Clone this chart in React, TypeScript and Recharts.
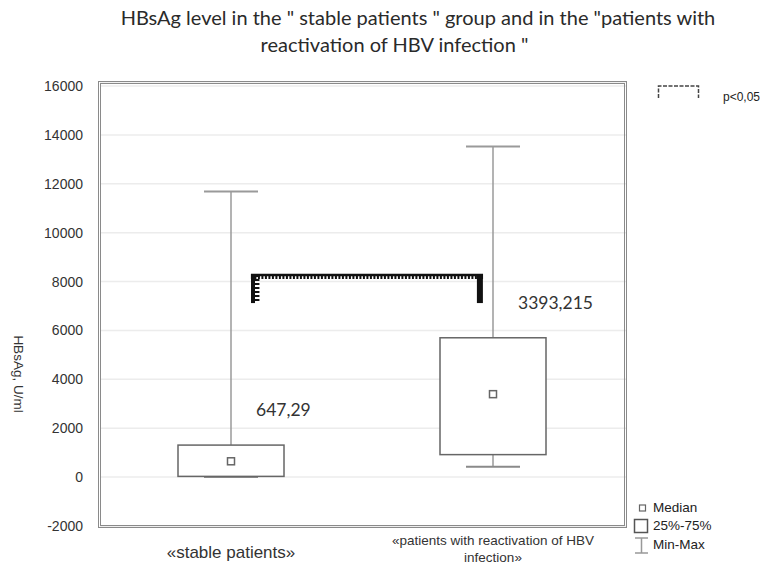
import React from "react";
import {
  ComposedChart,
  Bar,
  XAxis,
  YAxis,
  CartesianGrid,
  ReferenceLine,
} from "recharts";

// tick label lines per group (bottom axis)
const categoryLines = [
  ["«stable patients»"],
  ["«patients with reactivation of HBV", "infection»"],
];
const categories = categoryLines.map((l) => l.join(" "));

// box plot statistics, HBsAg U/ml
const minValues = [0, 420];
const q1Values = [30, 920];
const medianValues = [647.29, 3393.215];
const q3Values = [1310, 5700];
const maxValues = [11680, 13530];

const yTicks = [-2000, 0, 2000, 4000, 6000, 8000, 10000, 12000, 14000, 16000];

// significance bracket (p<0,05) between the groups, x in group units
const bracketTop = 8265;
const bracketBottom = 7120;
const bracketFrom = 0.576;
const bracketTo = 1.462;

const data = categories.map((name, i) => ({
  name,
  pos: i + 0.5,
  range: [minValues[i], maxValues[i]],
  min: minValues[i],
  q1: q1Values[i],
  median: medianValues[i],
  q3: q3Values[i],
  max: maxValues[i],
}));
const xTicks = data.map((d) => d.pos);

const BoxShape = (props: any) => {
  const { x, y, width, height, payload } = props;
  const { min, max, q1, median, q3 } = payload;
  const top = Math.min(y, y + height);
  const bottom = Math.max(y, y + height);
  const px = (v: number) => bottom - ((v - min) / (max - min)) * (bottom - top);
  const cx = x + width / 2;
  const cap = 27;
  const label = String(median).replace(".", ",");
  return (
    <g>
      <line x1={cx} x2={cx} y1={px(max)} y2={px(q3)} stroke="#9a9a9a" strokeWidth={1.5} />
      <line x1={cx} x2={cx} y1={px(q1)} y2={px(min)} stroke="#9a9a9a" strokeWidth={1.5} />
      <line x1={cx - cap} x2={cx + cap} y1={px(max)} y2={px(max)} stroke="#9a9a9a" strokeWidth={2} />
      <line x1={cx - cap} x2={cx + cap} y1={px(min)} y2={px(min)} stroke="#8a8a8a" strokeWidth={2} />
      <rect
        x={x}
        y={px(q3)}
        width={width}
        height={px(q1) - px(q3)}
        fill="#fff"
        stroke="#666"
        strokeWidth={1.5}
      />
      <rect x={cx - 3.5} y={px(median) - 3.5} width={7} height={7} fill="#fff" stroke="#666" strokeWidth={1.5} />
      <text
        x={cx + 25}
        y={px(q3) - 35}
        dy="0.36em"
        fontFamily="Lato"
        fontSize={17.5}
        fill="#333"
      >
        {label}
      </text>
    </g>
  );
};

const CategoryTick = (props: any) => {
  const { x, y, index } = props;
  const lines = categoryLines[index] || [];
  const multi = lines.length > 1;
  return (
    <text
      x={x}
      y={y}
      textAnchor="middle"
      fontFamily="Liberation Sans"
      fontSize={multi ? 13.5 : 17}
      fill="#333"
    >
      {lines.map((l, i) => (
        <tspan key={i} x={x} dy={i === 0 ? (multi ? 16 : 29) : 17}>
          {l}
        </tspan>
      ))}
    </text>
  );
};

const legendText: React.CSSProperties = {
  position: "absolute",
  fontFamily: "Liberation Sans",
  fontSize: 13.5,
  color: "#222",
  lineHeight: "16px",
  whiteSpace: "nowrap",
};

const titleStyle: React.CSSProperties = {
  position: "absolute",
  left: 0,
  textAlign: "center",
  fontFamily: "Lato",
  fontSize: 20,
  lineHeight: "27px",
  color: "#2a2a2a",
  whiteSpace: "pre",
};

export default function App() {
  return (
    <div style={{ position: "absolute", left: 0, top: 0, width: 766, height: 573, background: "#fff" }}>
      <div style={{ ...titleStyle, width: 836, top: 4 }}>
        {'HBsAg level in the " stable patients " group and in the "patients with'}
      </div>
      <div style={{ ...titleStyle, width: 789, top: 31 }}>{'reactivation of HBV infection "'}</div>

      <ComposedChart
        width={766}
        height={573}
        data={data}
        margin={{ top: 82, right: 140, bottom: 0, left: 0 }}
        style={{ position: "absolute", left: 0, top: 0 }}
      >
        <CartesianGrid vertical={false} stroke="#ececec" strokeWidth={1.5} />
        <XAxis
          dataKey="pos"
          type="number"
          domain={[0, 2]}
          ticks={xTicks}
          height={46}
          axisLine={false}
          tickLine={false}
          tickSize={0}
          padding={{ left: 0, right: 2 }}
          tick={<CategoryTick />}
          interval={0}
        />
        <YAxis
          width={100}
          domain={[-2000, 16000]}
          ticks={yTicks}
          interval={0}
          padding={{ top: 4, bottom: 1 }}
          axisLine={false}
          tickLine={false}
          tickSize={0}
          tickMargin={17}
          tick={{ fontFamily: "Liberation Sans", fontSize: 14, fill: "#333" }}
          label={() => (
            <text
              x={18}
              y={374}
              transform="rotate(90 18 374)"
              textAnchor="middle"
              dominantBaseline="middle"
              fontFamily="Liberation Sans"
              fontSize={13.5}
              fill="#333"
            >
              HBsAg, U/ml
            </text>
          )}
        />
        <Bar dataKey="range" barSize={106} shape={<BoxShape />} isAnimationActive={false} />
        <ReferenceLine
          segment={[{ x: bracketFrom, y: bracketTop }, { x: bracketTo, y: bracketTop }]}
          stroke="#111"
          strokeWidth={2.5}
        />
        <ReferenceLine
          segment={[{ x: bracketFrom, y: bracketTop - 100 }, { x: bracketTo, y: bracketTop - 100 }]}
          stroke="#111"
          strokeWidth={3}
          strokeDasharray="2 1.5"
        />
        <ReferenceLine
          segment={[{ x: bracketFrom + 0.008, y: bracketTop }, { x: bracketFrom + 0.008, y: bracketBottom }]}
          stroke="#111"
          strokeWidth={4}
        />
        <ReferenceLine
          segment={[{ x: bracketFrom + 0.023, y: bracketTop }, { x: bracketFrom + 0.023, y: bracketBottom }]}
          stroke="#111"
          strokeWidth={5}
          strokeDasharray="2 2"
        />
        <ReferenceLine
          segment={[{ x: bracketTo - 0.012, y: bracketTop }, { x: bracketTo - 0.012, y: bracketBottom }]}
          stroke="#111"
          strokeWidth={6}
        />
      </ComposedChart>

      {/* plot frame */}
      <div
        style={{
          position: "absolute",
          left: 98,
          top: 81,
          width: 529,
          height: 447,
          boxSizing: "border-box",
          border: "3px double #8a8a8a",
          pointerEvents: "none",
        }}
      />

      {/* legend */}
      <svg style={{ position: "absolute", left: 0, top: 0 }} width={766} height={573} pointerEvents="none">
        <path d="M658.5 98 V86 H698.5 V98" fill="none" stroke="#444" strokeWidth={1.5} strokeDasharray="4 1.5" />
        <rect x={639.5} y={505} width={6} height={6} fill="#fff" stroke="#666" strokeWidth={1.2} />
        <rect x={634.5} y={519.5} width={13} height={13} fill="#fff" stroke="#555" strokeWidth={1.5} />
        <path d="M635 538 H648 M641.5 538 V553 M635 553 H648" fill="none" stroke="#999" strokeWidth={1.5} />
      </svg>
      <div style={{ ...legendText, left: 723, top: 89, fontSize: 12 }}>p&lt;0,05</div>
      <div style={{ ...legendText, left: 653, top: 500 }}>Median</div>
      <div style={{ ...legendText, left: 653, top: 518 }}>25%-75%</div>
      <div style={{ ...legendText, left: 653, top: 537 }}>Min-Max</div>
    </div>
  );
}
